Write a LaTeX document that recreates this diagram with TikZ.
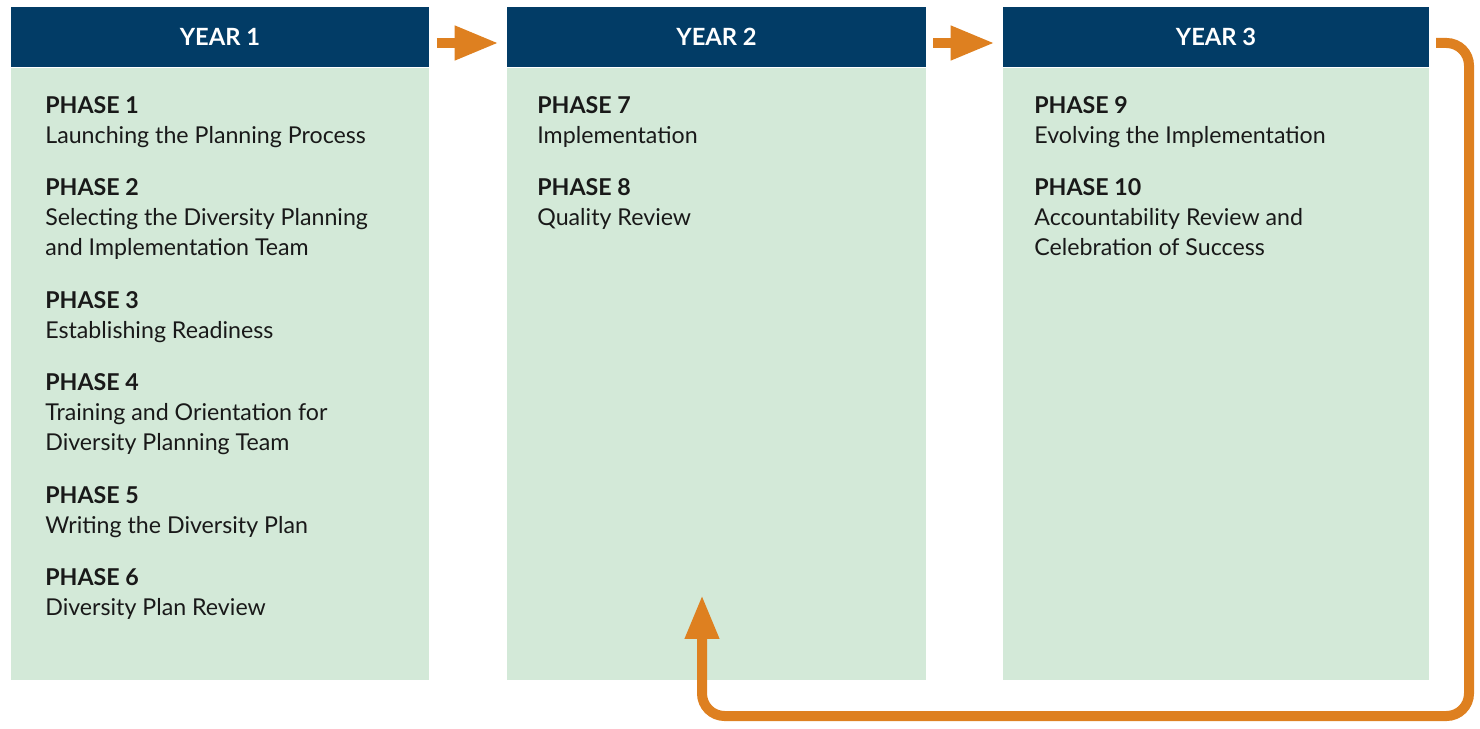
\documentclass[tikz,border=0pt]{standalone}
\usepackage{fontspec}
\setmainfont{Lato}
\usetikzlibrary{positioning,arrows.meta}

\definecolor{yearblue}{HTML}{023C66}
\definecolor{phasegreen}{HTML}{D3E9D8}
\definecolor{flowarrow}{HTML}{DE8020}

\newcommand{\phase}[2]{\textbf{PHASE #1}\\#2}

\tikzset{
  year/.style={fill=yearblue, text=white, inner sep=0pt,
    font=\bfseries\fontsize{13.5}{16}\selectfont,
    minimum width=#1, minimum height=1.2cm},
  year/.default=8.38cm,
  yearbody/.style={fill=phasegreen, inner sep=0pt, anchor=north,
    minimum width=#1, minimum height=12.24cm},
  yearbody/.default=8.38cm,
  phases/.style={anchor=north west, align=left, inner sep=0pt,
    text=black!90, font=\fontsize{13.2}{17}\selectfont},
  nextyear/.style={draw=flowarrow, line width=0.2cm,
    -{Triangle[length=0.88cm, width=0.64cm]}},
  loopback/.style={nextyear, rounded corners=0.45cm}
}

\begin{document}
\begin{tikzpicture}[x=0.02cm, y=-0.02cm]
  \useasboundingbox (0,0) rectangle (1480,729);

  \node[year] at (220, 37)  (y1) {YEAR 1};
  \node[year] at (716.5, 37)  (y2) {YEAR 2};
  \node[year=8.52cm] at (1216, 37) (y3) {YEAR 3};

  \node[yearbody] at (y1.south) (b1) {};
  \node[yearbody] at (y2.south) (b2) {};
  \node[yearbody=8.52cm] at (y3.south) (b3) {};

  \node[phases] at (45, 96) (p1) {\phase{1}{Launching the Planning Process}\\[13pt]
    \phase{2}{Selecting the Diversity Planning\\and Implementation Team}\\[13pt]
    \phase{3}{Establishing Readiness}\\[13pt]
    \phase{4}{Training and Orientation for\\Diversity Planning Team}\\[13pt]
    \phase{5}{Writing the Diversity Plan}\\[13pt]
    \phase{6}{Diversity Plan Review}};
  \node[phases] at (537, 96) (p2) {\phase{7}{Implementation}\\[13pt]
    \phase{8}{Quality Review}};
  \node[phases] at (1034, 96) (p3) {\phase{9}{Evolving the Implementation}\\[13pt]
    \phase{10}{Accountability Review and\\Celebration of Success}};

  \coordinate (loop start) at (1436, 43);
  \coordinate (loop end) at (702, 595);

  \draw[nextyear] ([xshift=0.14cm, yshift=-0.12cm]y1.east) -- ([xshift=-0.16cm, yshift=-0.12cm]y2.west);
  \draw[nextyear] ([xshift=0.14cm, yshift=-0.12cm]y2.east) -- ([xshift=-0.16cm, yshift=-0.12cm]y3.west);
  \draw[loopback] (loop start) -| (1469, 716) -| (loop end);
\end{tikzpicture}
\end{document}
